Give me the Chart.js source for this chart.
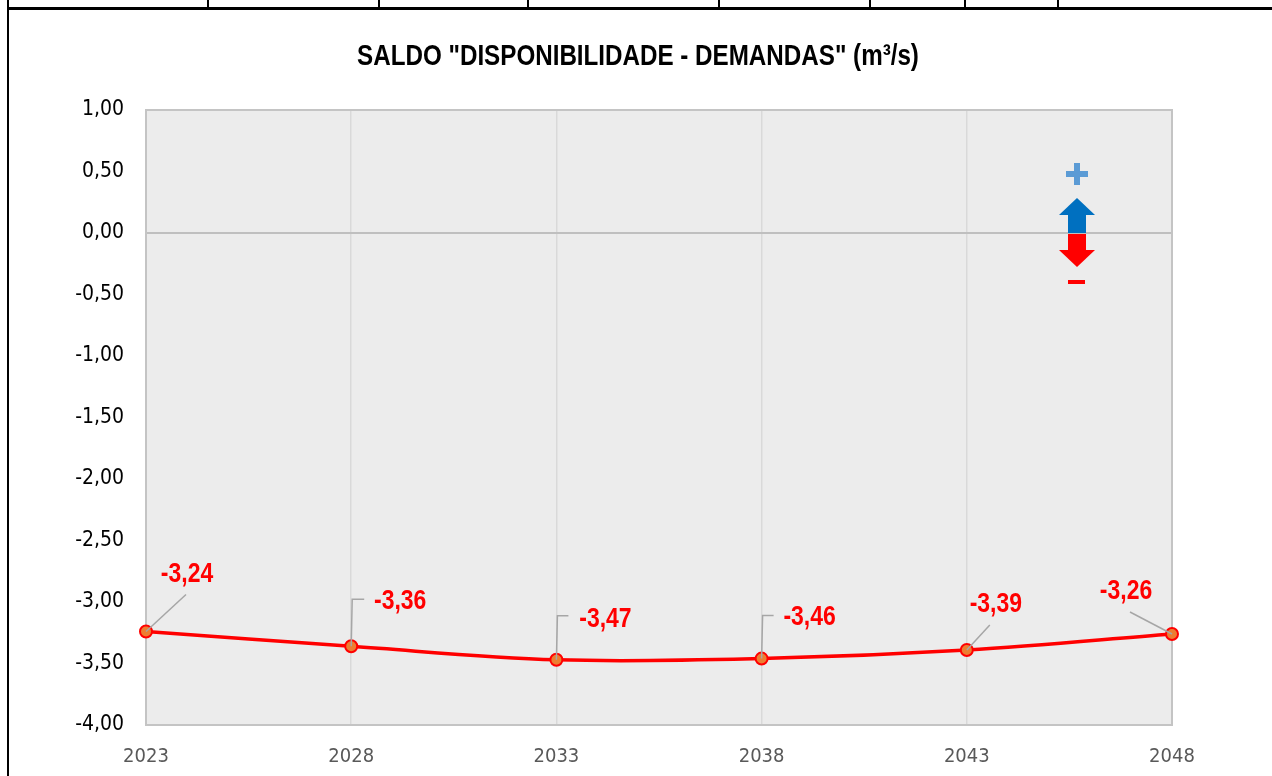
<!DOCTYPE html>
<html>
<head>
<meta charset="utf-8">
<script src="https://cdn.jsdelivr.net/npm/chart.js@4"></script>
<style>
  body { margin: 0; background: #fff; }
  #marco { position: relative; width: 1272px; height: 776px; overflow: hidden; }
  #grafica { position: absolute; left: 0; top: 0; }
  .ln { position: absolute; background: #000; }
</style>
</head>
<body>
<div id="marco">
  <canvas id="grafica" width="1272" height="776"></canvas>
  <!-- bordes de la tabla -->
  <div class="ln" style="left:7px;top:7px;width:1265px;height:3px"></div>
  <div class="ln" style="left:7px;top:0;width:2px;height:776px"></div>
  <div class="ln" style="left:207px;top:0;width:2px;height:9px"></div>
  <div class="ln" style="left:378px;top:0;width:2px;height:9px"></div>
  <div class="ln" style="left:527px;top:0;width:2px;height:9px"></div>
  <div class="ln" style="left:718px;top:0;width:2px;height:9px"></div>
  <div class="ln" style="left:869px;top:0;width:2px;height:9px"></div>
  <div class="ln" style="left:964px;top:0;width:2px;height:9px"></div>
  <div class="ln" style="left:1057px;top:0;width:2px;height:9px"></div>
</div>
<script>
const anios = ['2023', '2028', '2033', '2038', '2043', '2048'];
const saldo = [-3.24, -3.36, -3.47, -3.46, -3.39, -3.26];
const ticksY = [1, 0.5, 0, -0.5, -1, -1.5, -2, -2.5, -3, -3.5, -4];
const titulo = 'SALDO "DISPONIBILIDADE - DEMANDAS" (m³/s)';

// posición de cada etiqueta respecto a su punto (px): texto dx, dy, tipo de guía, fin guía dx, dy
const etiquetas = [
  { tx: 41, ty: -57, tipo: 'diag', gx: 40, gy: -37 },
  { tx: 49, ty: -45, tipo: 'codo', gx: 13, gy: -47 },
  { tx: 49, ty: -41, tipo: 'codo', gx: 12, gy: -44 },
  { tx: 48, ty: -41, tipo: 'codo', gx: 12, gy: -43 },
  { tx: 29, ty: -46, tipo: 'diag', gx: 23, gy: -25 },
  { tx: -46, ty: -43, tipo: 'diag', gx: -42, gy: -22 }
];

const fuente = "'DejaVu Sans Condensed', 'Arial Narrow', sans-serif";
const fuenteAncha = "'Liberation Sans', Arial, sans-serif";
Chart.defaults.font.family = fuente;

const fmt = v => v.toFixed(2).replace('.', ',');

// texto estrecho: Liberation Sans comprimida en horizontal (como Arial Narrow)
function textoEstrecho(ctx, txt, x, y, tam, color) {
  ctx.save();
  ctx.translate(x, y);
  ctx.scale(0.82, 1);
  ctx.font = 'bold ' + tam + 'px ' + fuenteAncha;
  ctx.fillStyle = color;
  ctx.textAlign = 'center';
  ctx.textBaseline = 'middle';
  ctx.fillText(txt, 0, 0);
  ctx.restore();
}

// fondo, borde del área y título
const fondo = {
  id: 'fondo',
  beforeDraw(chart) {
    const a = chart.chartArea, ctx = chart.ctx;
    ctx.save();
    ctx.fillStyle = '#ececec';
    ctx.fillRect(a.left, a.top, a.width, a.height);
    ctx.restore();
    textoEstrecho(ctx, titulo, chart.width / 2 + 2, 57, 29.5, '#000');
  },
  beforeDatasetsDraw(chart) {
    const a = chart.chartArea, ctx = chart.ctx;
    ctx.save();
    ctx.strokeStyle = '#c4c4c4';
    ctx.lineWidth = 2;
    ctx.strokeRect(a.left, a.top, a.width, a.height);
    ctx.restore();
  }
};

// flechas + / - junto al cero
const flechas = {
  id: 'flechas',
  afterDatasetsDraw(chart) {
    const ctx = chart.ctx;
    const cx = chart.chartArea.right - 95;
    const y0 = chart.scales.y.getPixelForValue(0);
    ctx.save();
    // más
    ctx.fillStyle = '#5b9bd5';
    ctx.fillRect(cx - 11, y0 - 62, 22, 6);
    ctx.fillRect(cx - 3, y0 - 70, 6, 22);
    // flecha arriba
    ctx.fillStyle = '#0070c0';
    ctx.fillRect(cx - 9, y0 - 19, 18, 19);
    ctx.beginPath();
    ctx.moveTo(cx, y0 - 35);
    ctx.lineTo(cx + 18, y0 - 18);
    ctx.lineTo(cx - 18, y0 - 18);
    ctx.closePath();
    ctx.fill();
    // flecha abajo
    ctx.fillStyle = '#ff0000';
    ctx.fillRect(cx - 9, y0 + 1, 18, 18);
    ctx.beginPath();
    ctx.moveTo(cx - 18, y0 + 17);
    ctx.lineTo(cx + 18, y0 + 17);
    ctx.lineTo(cx, y0 + 34);
    ctx.closePath();
    ctx.fill();
    // menos
    ctx.fillRect(cx - 9, y0 + 47, 17, 4);
    ctx.restore();
  }
};

// etiquetas de datos con líneas guía
const rotulos = {
  id: 'rotulos',
  afterDatasetsDraw(chart) {
    const ctx = chart.ctx;
    const pts = chart.getDatasetMeta(0).data;
    pts.forEach((p, i) => {
      const e = etiquetas[i];
      ctx.save();
      ctx.strokeStyle = '#a6a6a6';
      ctx.lineWidth = 1.5;
      ctx.beginPath();
      ctx.moveTo(p.x, p.y);
      if (e.tipo === 'codo') {
        ctx.lineTo(p.x + 1, p.y + e.gy);
        ctx.lineTo(p.x + e.gx, p.y + e.gy);
      } else {
        ctx.lineTo(p.x + e.gx, p.y + e.gy);
      }
      ctx.stroke();
      ctx.restore();
      textoEstrecho(ctx, fmt(saldo[i]), p.x + e.tx, p.y + e.ty, 28, '#ff0000');
    });
  }
};

const ctx = document.getElementById('grafica').getContext('2d');
new Chart(ctx, {
  type: 'line',
  data: {
    labels: anios,
    datasets: [{
      data: saldo,
      borderColor: '#ff0000',
      borderWidth: 3.5,
      tension: 0.35,
      pointRadius: 6,
      pointBackgroundColor: '#ed7d31',
      pointBorderColor: '#ff0000',
      pointBorderWidth: 2,
      clip: false
    }]
  },
  options: {
    responsive: false,
    animation: false,
    layout: { padding: { left: 0, right: 100, top: 110, bottom: 0 } },
    plugins: {
      legend: { display: false },
      tooltip: { enabled: false },
      title: { display: false }
    },
    scales: {
      x: {
        offset: false,
        grid: { color: '#d9d9d9', lineWidth: 1.5, drawTicks: false },
        border: { display: false },
        ticks: { color: '#595959', font: { size: 20 }, padding: 20 },
        afterFit: s => { s.height = 51; }
      },
      y: {
        min: -4,
        max: 1,
        afterBuildTicks: s => { s.ticks = ticksY.map(v => ({ value: v })); },
        grid: {
          color: c => (c.tick && c.tick.value === 0) ? '#bfbfbf' : 'rgba(0,0,0,0)',
          lineWidth: 2,
          drawTicks: false
        },
        border: { display: false },
        ticks: { color: '#000', font: { size: 21 }, padding: 22, callback: v => fmt(v) },
        afterFit: s => { s.width = 146; }
      }
    }
  },
  plugins: [fondo, flechas, rotulos]
});
</script>
</body>
</html>
